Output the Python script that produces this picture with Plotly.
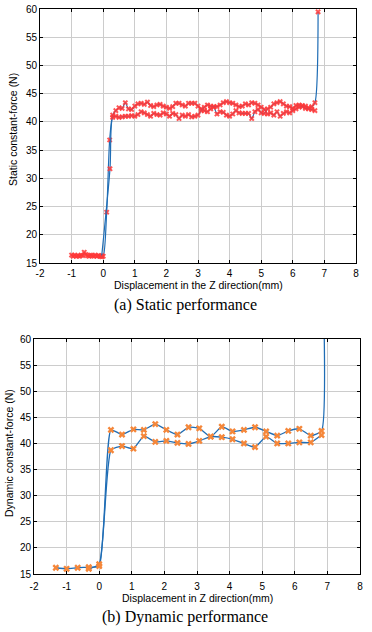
import plotly.graph_objects as go

# ---------------- data: (a) static performance ----------------
static_flat_x = [-1.0, -0.95, -0.9, -0.85, -0.8, -0.75, -0.7, -0.65, -0.6, -0.55, -0.5,
                 -0.45, -0.4, -0.35, -0.3, -0.25, -0.2, -0.15, -0.1, -0.05, 0.0]
static_flat_y = [16.4, 16.2, 16.4, 16.2, 16.3, 16.2, 16.4, 16.3, 16.9, 16.5, 16.3,
                 16.2, 16.4, 16.3, 16.2, 16.4, 16.2, 16.3, 16.2, 16.3, 16.2]

static_rise_a_x = [0.11, 0.205]
static_rise_a_y = [24.0, 36.8]

static_plateau_x = [0.3, 0.4, 0.5, 0.6, 0.7, 0.8, 0.9, 1.0, 1.1, 1.2, 1.3, 1.4, 1.5, 1.6,
                    1.7, 1.8, 1.9, 2.0, 2.1, 2.2, 2.3, 2.4, 2.5, 2.6, 2.7, 2.8, 2.9, 3.0,
                    3.1, 3.2, 3.3, 3.4, 3.5, 3.6, 3.7, 3.8, 3.9, 4.0, 4.1, 4.2, 4.3, 4.4,
                    4.5, 4.6, 4.7, 4.8, 4.9, 5.0, 5.1, 5.2, 5.3, 5.4, 5.5, 5.6, 5.7, 5.8,
                    5.9, 6.0, 6.1, 6.2, 6.3, 6.4, 6.5, 6.6, 6.7]
static_load_y = [41.2, 42.0, 42.5, 42.4, 43.4, 42.3, 42.2, 42.8, 43.2, 43.3, 43.1, 43.5, 42.9, 42.7,
                 43.0, 43.1, 42.8, 42.6, 42.4, 42.7, 43.3, 43.3, 43.0, 42.8, 43.3, 43.3, 43.3, 42.8,
                 42.3, 42.0, 41.8, 42.3, 42.6, 41.4, 41.8, 41.7, 41.2, 41.0, 41.4, 42.0, 41.6, 41.5,
                 41.5, 41.5, 40.6, 41.8, 42.2, 41.6, 41.5, 42.3, 42.6, 43.2, 43.4, 43.6, 43.2, 42.8,
                 42.7, 42.4, 42.9, 43.0, 42.9, 42.8, 42.5, 42.7, 43.4]
static_unload_y = [40.8, 41.0, 40.8, 40.9, 41.0, 41.0, 41.1, 41.0, 41.3, 41.8, 41.6, 41.3, 41.0, 41.5,
                   41.3, 41.2, 41.6, 41.4, 41.0, 41.5, 41.3, 40.6, 41.2, 41.0, 41.3, 40.9, 41.0, 41.2,
                   42.0, 42.6, 43.0, 42.8, 42.7, 42.7, 43.0, 43.4, 43.6, 43.4, 43.3, 43.0, 42.7, 42.8,
                   43.2, 43.0, 43.4, 43.3, 43.0, 42.6, 42.2, 41.4, 41.6, 41.2, 41.8, 41.0, 41.5, 41.8,
                   41.6, 42.0, 42.3, 42.6, 42.7, 42.4, 42.3, 42.2, 42.0]
static_end_x = [6.8]
static_end_y = [59.5]
static_rise_b_x = [0.215, -0.05]
static_rise_b_y = [31.7, 16.1]

# ---------------- data: (b) dynamic performance ----------------
dyn_flat_x = [-1.33, -1.0, -0.66, -0.32, 0.0]
dyn_flat_y = [16.2, 16.0, 16.2, 16.3, 16.5]
dyn_x = [0.36, 0.70, 1.05, 1.37, 1.72, 2.06, 2.40, 2.74, 3.07, 3.42,
         3.76, 4.09, 4.44, 4.78, 5.12, 5.46, 5.80, 6.14, 6.49, 6.82]
dyn_load_y = [42.6, 41.7, 42.7, 42.6, 43.7, 42.6, 41.7, 43.1, 42.9, 41.3,
              43.2, 42.3, 42.6, 43.1, 42.3, 41.5, 42.4, 42.8, 41.5, 42.4]
dyn_unload_y = [38.7, 39.5, 39.0, 41.4, 40.3, 40.5, 40.1, 39.9, 40.5, 41.3,
                41.2, 40.8, 40.0, 39.3, 41.3, 40.0, 40.0, 40.2, 40.2, 41.6]
dyn_end_x = [6.83]
dyn_end_y = [80.0]
dyn_back_x = [0.0, -0.32]
dyn_back_y = [16.9, 16.0]

x_ticks = [-2, -1, 0, 1, 2, 3, 4, 5, 6, 7, 8]
x_tick_text = ["-2", "-1", "0", "1", "2", "3", "4", "5", "6", "7", "8"]
y_ticks = [15, 20, 25, 30, 35, 40, 45, 50, 55, 60]

LINE = "#1f6db5"
RED = "rgba(255,55,55,0.85)"
ORANGE = "#f5873a"
FONT = "Liberation Sans, Arial, sans-serif"
SERIF = "Liberation Serif, Times New Roman, serif"

W, H = 372, 632

fig = go.Figure()

# static loading
sa_x = static_flat_x + static_rise_a_x + static_plateau_x + static_end_x
sa_y = static_flat_y + static_rise_a_y + static_load_y + static_end_y
fig.add_trace(go.Scatter(x=sa_x, y=sa_y, mode="lines+markers", xaxis="x", yaxis="y",
                         line=dict(color=LINE, width=1.2, shape="spline", smoothing=0.8),
                         marker=dict(symbol="x", size=5, color=RED, line=dict(width=0)),
                         showlegend=False))
# static unloading
sb_x = list(reversed(static_plateau_x)) + static_rise_b_x
sb_y = list(reversed(static_unload_y)) + static_rise_b_y
fig.add_trace(go.Scatter(x=sb_x, y=sb_y, mode="lines+markers", xaxis="x", yaxis="y",
                         line=dict(color=LINE, width=1.2, shape="spline", smoothing=0.8),
                         marker=dict(symbol="x", size=5, color=RED, line=dict(width=0)),
                         showlegend=False))

# dynamic loading
da_x = dyn_flat_x + dyn_x + dyn_end_x
da_y = dyn_flat_y + dyn_load_y + dyn_end_y
fig.add_trace(go.Scatter(x=da_x, y=da_y, mode="lines+markers", xaxis="x2", yaxis="y2",
                         line=dict(color=LINE, width=1.3, shape="spline", smoothing=0.5),
                         marker=dict(symbol="x", size=6, color=ORANGE, line=dict(width=0)),
                         showlegend=False))
# dynamic unloading
db_x = list(reversed(dyn_x)) + dyn_back_x
db_y = list(reversed(dyn_unload_y)) + dyn_back_y
fig.add_trace(go.Scatter(x=db_x, y=db_y, mode="lines+markers", xaxis="x2", yaxis="y2",
                         line=dict(color=LINE, width=1.3, shape="spline", smoothing=0.5),
                         marker=dict(symbol="x", size=6, color=ORANGE, line=dict(width=0)),
                         showlegend=False))

def px_x(p):
    return p / W

def px_y(p):
    return 1 - p / H

axis_common = dict(showline=True, linecolor="black", linewidth=1, mirror="ticks",
                   ticks="inside", ticklen=3, tickcolor="black", automargin=False,
                   showgrid=True, gridcolor="#cccccc", gridwidth=1, zeroline=False,
                   tickfont=dict(family=FONT, size=10, color="black"))

fig.update_layout(
    width=W, height=H,
    margin=dict(l=0, r=0, t=0, b=0, autoexpand=False),
    paper_bgcolor="white", plot_bgcolor="white",
    xaxis=dict(domain=[px_x(40), px_x(356)], range=[-2, 8], tickvals=x_ticks,
               ticktext=x_tick_text, anchor="y", ticklabelstandoff=1, **axis_common),
    yaxis=dict(domain=[px_y(263), px_y(9)], range=[15, 60], tickvals=y_ticks,
               anchor="x", ticklabelstandoff=0, **axis_common),
    xaxis2=dict(domain=[px_x(34), px_x(360)], range=[-2, 8], tickvals=x_ticks,
                ticktext=x_tick_text, anchor="y2", ticklabelstandoff=3, **axis_common),
    yaxis2=dict(domain=[px_y(574), px_y(339)], range=[15, 60], tickvals=y_ticks,
                anchor="x2", ticklabelstandoff=0, **axis_common),
)

def ann(text, xp, yp, size, family, angle=0):
    fig.add_annotation(text=text, x=px_x(xp), y=px_y(yp), xref="paper", yref="paper",
                       showarrow=False, xanchor="center", yanchor="middle",
                       textangle=angle, font=dict(family=family, size=size, color="black"))

ann("Displacement in the Z direction(mm)", 198, 285, 10.5, FONT)
ann("(a) Static performance", 185, 305, 16, SERIF)
ann("Static constant-force (N)", 13, 130, 10.5, FONT, -90)

ann("Displacement in Z direction(mm)", 197, 598, 10.5, FONT)
ann("(b) Dynamic performance", 185, 617, 16, SERIF)
ann("Dynamic constant-force (N)", 9, 453, 10.5, FONT, -90)

fig.write_html("out.html", config={"displayModeBar": False},
               post_script="document.body.style.margin='0';document.body.style.overflow='hidden';")
